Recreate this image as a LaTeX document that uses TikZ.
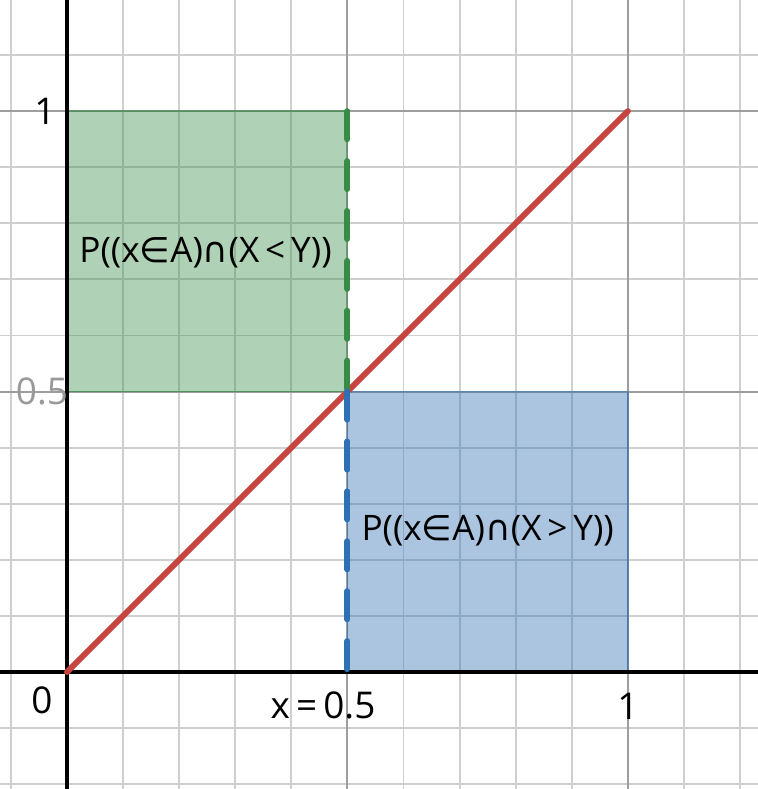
\documentclass[tikz,border=0pt]{standalone}
\usepackage{fontspec}
\setmainfont{Open Sans}
\newfontfamily\symf{DejaVu Sans}
\definecolor{dgreen}{HTML}{388C46}
\definecolor{dblue}{HTML}{2D70B3}
\definecolor{dred}{HTML}{C74440}
\definecolor{minorc}{HTML}{CFCFCF}
\definecolor{majorc}{HTML}{9E9E9E}
\definecolor{labgray}{HTML}{999999}
\tikzset{
  minorline/.style={draw=minorc, line width=1.05pt},
  majorline/.style={draw=majorc, line width=1.2pt},
  axisline/.style={draw=black, line width=2.1pt},
  regionfill/.style={fill opacity=0.4, draw opacity=0.55, line width=0.8pt},
  dashline/.style={line width=3.4pt, line cap=round, dash pattern=on 16pt off 12.4pt},
  numlabel/.style={font=\fontsize{21}{24}\selectfont, inner sep=0pt},
  plabel/.style={font=\fontsize{20}{24}\selectfont, inner sep=0pt}
}
\begin{document}
\begin{tikzpicture}[x=0.02cm,y=-0.02cm]
\useasboundingbox (0,0) rectangle (758,789);
\fill[white] (0,0) rectangle (758,789);
\begin{scope}[shift={(67,672)}, x=11.22cm, y=11.22cm]
  % minor grid
  \foreach \i in {-1,1,2,3,4,6,7,8,9,11,12}
    \draw[minorline] (\i/10,-0.22) -- (\i/10,1.21);
  \foreach \j in {-2,-1,1,2,3,4,6,7,8,9,11}
    \draw[minorline] (-0.13,\j/10) -- (1.25,\j/10);
  % major grid
  \foreach \i in {0.5,1}
    \draw[majorline] (\i,-0.22) -- (\i,1.21);
  \foreach \j in {0.5,1}
    \draw[majorline] (-0.13,\j) -- (1.25,\j);
  % regions
  \filldraw[regionfill, fill=dgreen, draw=dgreen] (0,0.5) rectangle (0.5,1);
  \filldraw[regionfill, fill=dblue, draw=dblue] (0.5,0) rectangle (1,0.5);
  % axes
  \draw[axisline] (-0.13,0) -- (1.25,0);
  \draw[axisline] (0,-0.22) -- (0,1.21);
  % diagonal
  \coordinate (o) at (0,0);
  \coordinate (one) at (1,1);
  \coordinate (top) at (0.5,1);
  \coordinate (mid) at (0.5,0.5);
  \coordinate (bot) at (0.5,0);
  \draw[dred, line width=3.4pt, line cap=round] (o) -- (one);
  \draw[dashline, dgreen] (top) -- (mid);
  \draw[dashline, dblue] (mid) -- (bot);
  % labels
  \node[plabel] (pg) at (0.247,0.748) {P((x{\symf ∈}A){\symf ∩}(X\,<\,Y))};
  \node[plabel] (pb) at (0.750,0.252) {P((x{\symf ∈}A){\symf ∩}(X\,>\,Y))};
\end{scope}
\node[numlabel] (l0) at (42,700) {0};
\node[numlabel] (l1x) at (628,706) {1};
\node[numlabel] (lx) at (323,705) {x\,=\,0.5};
\node[numlabel] (l1y) at (45,111) {1};
\node[numlabel, text=labgray] (l5y) at (42,391) {0.5};
\end{tikzpicture}
\end{document}
